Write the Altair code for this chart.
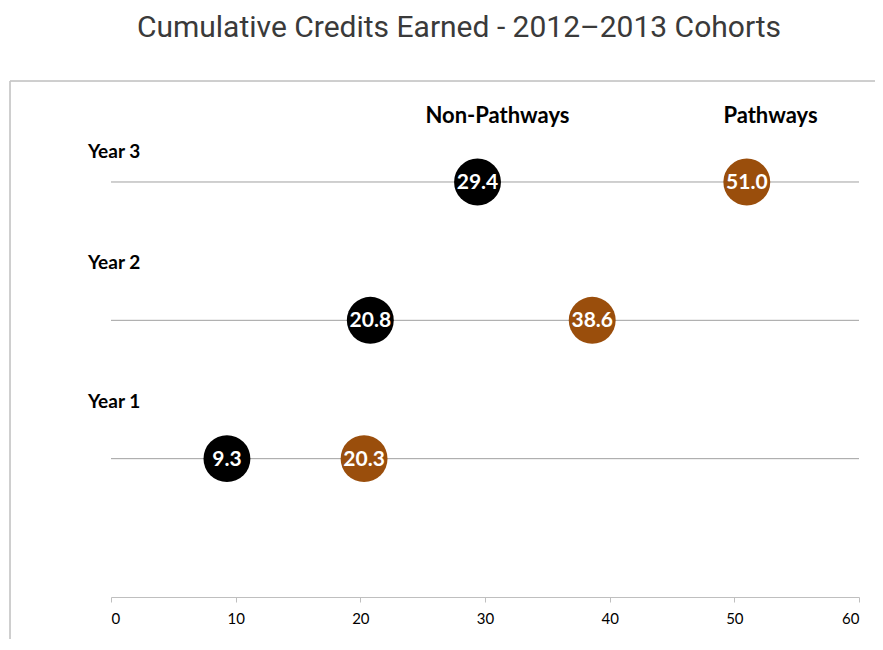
import altair as alt
import pandas as pd

years = ["Year 1", "Year 2", "Year 3"]
row_pos = [1, 2, 3]
non_pathways = [9.3, 20.8, 29.4]
pathways = [20.3, 38.6, 51.0]

year_label_x = [-1.85, -1.85, -1.85]
year_label_y = [1.41, 2.414, 3.217]

headers = ["Non-Pathways", "Pathways"]
header_x = [31.0, 52.9]
header_y = [3.477, 3.477]

BROWN = "#9A4E0C"
FONT = "Lato"

pts = pd.DataFrame({
    "year": years * 2,
    "row": row_pos * 2,
    "value": non_pathways + pathways,
    "group": ["Non-Pathways"] * 3 + ["Pathways"] * 3,
})
rows = pd.DataFrame({"row": row_pos, "x0": [0] * 3, "x1": [60] * 3})
ylabels = pd.DataFrame({"label": years, "x": year_label_x, "y": year_label_y})
hdr = pd.DataFrame({"label": headers, "x": header_x, "y": header_y})

xscale = alt.Scale(domain=[0, 60], nice=False)
yscale = alt.Scale(domain=[0, 3.73], nice=False, zero=False)

xaxis = alt.Axis(values=[0, 10, 20, 30, 40, 50, 60], grid=False, domainColor="#bfbfbf",
                 tickColor="#bfbfbf", tickSize=5, labelFont=FONT, labelFontSize=15,
                 labelColor="#000000", labelPadding=9, title=None)

lines = alt.Chart(rows).mark_rule(color="#a0a0a0", strokeWidth=1).encode(
    x=alt.X("x0:Q", scale=xscale, axis=xaxis),
    x2="x1:Q",
    y=alt.Y("row:Q", scale=yscale, axis=None),
)

circles = alt.Chart(pts).mark_circle(size=2200, opacity=1).encode(
    x=alt.X("value:Q", scale=xscale),
    y=alt.Y("row:Q", scale=yscale),
    color=alt.Color("group:N", scale=alt.Scale(domain=["Non-Pathways", "Pathways"],
                                               range=["#000000", BROWN]), legend=None),
)

vals = alt.Chart(pts).mark_text(font=FONT, fontWeight="bold", fontSize=21, color="white",
                                baseline="middle", align="center", dy=1).encode(
    x=alt.X("value:Q", scale=xscale),
    y=alt.Y("row:Q", scale=yscale),
    text=alt.Text("value:Q", format=".1f"),
)

ylab = alt.Chart(ylabels).mark_text(font=FONT, fontWeight="bold", fontSize=19, color="black",
                                    align="left", baseline="middle").encode(
    x=alt.X("x:Q", scale=xscale),
    y=alt.Y("y:Q", scale=yscale),
    text="label:N",
)

hdrs = alt.Chart(hdr).mark_text(font=FONT, fontWeight="bold", fontSize=22, color="black",
                                align="center", baseline="middle").encode(
    x=alt.X("x:Q", scale=xscale),
    y=alt.Y("y:Q", scale=yscale),
    text="label:N",
)

frame_top = alt.Chart(rows).mark_rule(color="#c8c8c8", strokeWidth=1).encode(
    x=alt.value(-101), x2=alt.value(800), y=alt.value(0))
frame_left = alt.Chart(rows).mark_rule(color="#c8c8c8", strokeWidth=1).encode(
    x=alt.value(-101), y=alt.value(0), y2=alt.value(600))

chart = alt.layer(frame_top, frame_left, lines, circles, vals, ylab, hdrs).properties(
    width=748,
    height=516,
    autosize=alt.AutoSizeParams(type="none"),
    padding={"left": 103, "top": 73, "right": 16, "bottom": 42},
    title=alt.TitleParams("Cumulative Credits Earned - 2012\u20132013 Cohorts",
                          font="Roboto", fontSize=30, fontWeight="normal", color="#3a3a3a",
                          anchor="middle", dx=-26, offset=38),
).configure_view(stroke=None)

chart.save("out.html", embed_options={"renderer": "svg", "actions": False})
